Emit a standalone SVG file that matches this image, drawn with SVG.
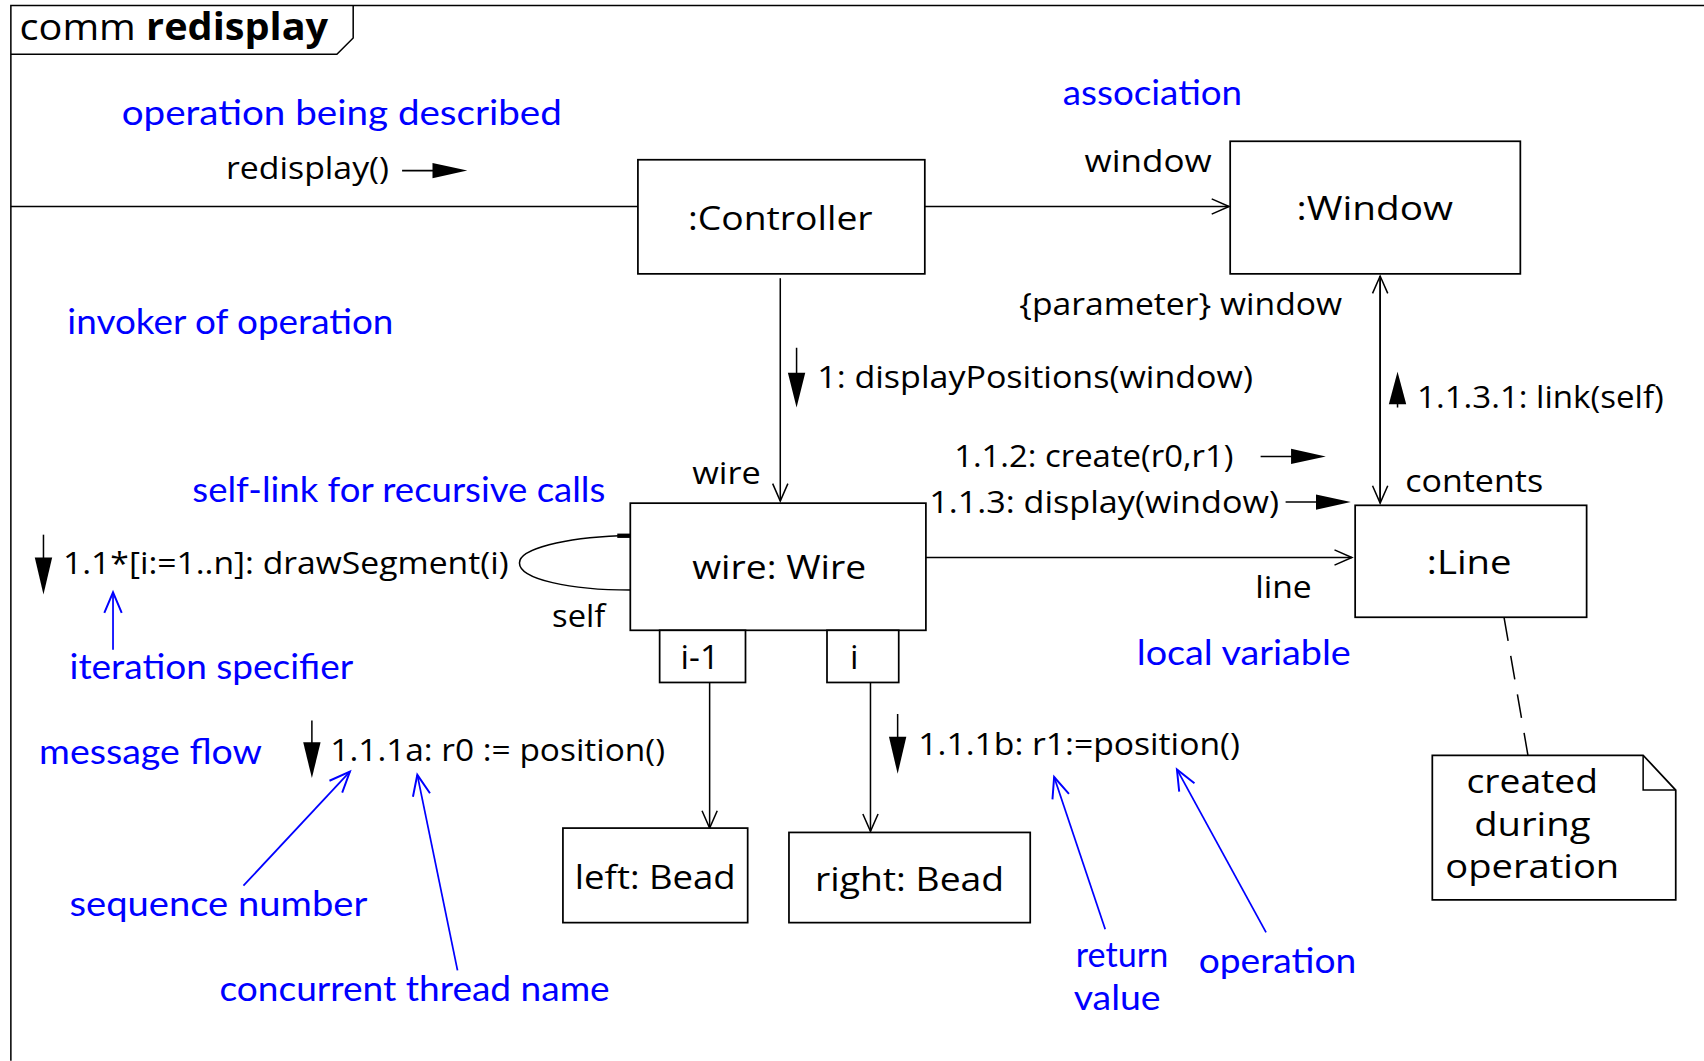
<svg xmlns="http://www.w3.org/2000/svg" width="1704" height="1061" viewBox="0 0 1704 1061">
<style>
.box{fill:#fff;stroke:#000;stroke-width:1.6}
.ln{fill:none;stroke:#000;stroke-width:1.4}
.bl{fill:none;stroke:#0000ff;stroke-width:1.6}
.t{font-family:"Open Sans","Liberation Sans",sans-serif;fill:#000}
.n{font-family:"Open Sans","Liberation Sans",sans-serif;fill:#000;font-size:31px;text-anchor:middle}
.b{font-family:"Lato","Noto Sans",sans-serif;fill:#0000ff;font-size:32px}
</style>
<defs>
<marker id="open" markerWidth="20" markerHeight="20" refX="18" refY="8" orient="auto" markerUnits="userSpaceOnUse">
<path d="M2,1 L18,8 L2,15" fill="none" stroke="#000" stroke-width="1.4"/>
</marker>
<marker id="openb" markerWidth="24" markerHeight="24" refX="21" refY="9" orient="auto" markerUnits="userSpaceOnUse">
<path d="M2,1 L21,9 L2,17" fill="none" stroke="#0000ff" stroke-width="1.8"/>
</marker>
</defs>
<rect width="1704" height="1061" fill="#fff"/>
<g transform="scale(1.08673)">
<g id="frame">
<path class="ln" d="M10,976 L10,5 L1568,5" stroke-width="1.6"/>
<path class="ln" d="M10,50 L310,50 L325,35 L325,5" stroke-width="1.6"/>
<text class="t" x="18" y="37" font-size="34" textLength="284" lengthAdjust="spacingAndGlyphs">comm <tspan font-weight="bold">redisplay</tspan></text>
</g>

<g id="connectors">
<line class="ln" x1="10" y1="190" x2="587" y2="190"/>
<line class="ln" x1="851" y1="190" x2="1131" y2="190" marker-end="url(#open)"/>
<line class="ln" x1="1270" y1="462" x2="1270" y2="254" marker-end="url(#open)"/>
<line class="ln" x1="1270" y1="254" x2="1270" y2="463" marker-end="url(#open)"/>
<line class="ln" x1="718" y1="256" x2="718" y2="461" marker-end="url(#open)"/>
<line class="ln" x1="852" y1="513" x2="1244" y2="513" marker-end="url(#open)"/>
<path class="ln" d="M580,493 L570,493 C520,495 478,505 478,518 C478,533 525,543 580,543"/>
<line x1="568" y1="493" x2="580" y2="493" stroke="#000" stroke-width="4"/>
<line class="ln" x1="653" y1="628" x2="653" y2="762" marker-end="url(#open)"/>
<line class="ln" x1="801" y1="628" x2="801" y2="765" marker-end="url(#open)"/>
<line class="ln" x1="1384" y1="568" x2="1406" y2="695" stroke-dasharray="22,14"/>
</g>

<g id="messages">
<line class="ln" x1="370" y1="157" x2="402" y2="157"/>
<polygon points="398,150 430,157 398,164" fill="#000"/>
<line class="ln" x1="733" y1="320" x2="733" y2="345"/>
<polygon points="725,343 733,375 741,343" fill="#000"/>
<text class="t" x="752" y="357" font-size="28" textLength="401" lengthAdjust="spacingAndGlyphs">1: displayPositions(window)</text>
<line class="ln" x1="1286" y1="375" x2="1286" y2="368"/>
<polygon points="1278,372 1286,342 1294,372" fill="#000"/>
<text class="t" x="1304" y="375" font-size="28" textLength="227" lengthAdjust="spacingAndGlyphs">1.1.3.1: link(self)</text>
<line class="ln" x1="1160" y1="420" x2="1192" y2="420"/>
<polygon points="1188,413 1220,420 1188,427" fill="#000"/>
<text class="t" x="878" y="430" font-size="28" textLength="257" lengthAdjust="spacingAndGlyphs">1.1.2: create(r0,r1)</text>
<line class="ln" x1="1183" y1="462" x2="1215" y2="462"/>
<polygon points="1211,455 1243,462 1211,469" fill="#000"/>
<text class="t" x="855" y="472" font-size="28" textLength="322" lengthAdjust="spacingAndGlyphs">1.1.3: display(window)</text>
<line class="ln" x1="40" y1="492" x2="40" y2="515"/>
<polygon points="32,513 40,547 48,513" fill="#000"/>
<text class="t" x="58" y="528" font-size="28" textLength="410" lengthAdjust="spacingAndGlyphs">1.1*[i:=1..n]: drawSegment(i)</text>
<line class="ln" x1="287" y1="663" x2="287" y2="685"/>
<polygon points="279,683 287,716 295,683" fill="#000"/>
<text class="t" x="304" y="700" font-size="28" textLength="308" lengthAdjust="spacingAndGlyphs">1.1.1a: r0 := position()</text>
<line class="ln" x1="826" y1="657" x2="826" y2="680"/>
<polygon points="818,678 826,712 834,678" fill="#000"/>
<text class="t" x="845" y="695" font-size="28" textLength="296" lengthAdjust="spacingAndGlyphs">1.1.1b: r1:=position()</text>
<text class="t" x="208" y="165" font-size="28" textLength="150" lengthAdjust="spacingAndGlyphs">redisplay()</text>
</g>

<g id="roles">
<text class="t" x="998" y="158" font-size="28" textLength="117" lengthAdjust="spacingAndGlyphs">window</text>
<text class="t" x="938" y="290" font-size="28" textLength="297" lengthAdjust="spacingAndGlyphs">{parameter} window</text>
<text class="t" x="1293" y="453" font-size="28" textLength="127" lengthAdjust="spacingAndGlyphs">contents</text>
<text class="t" x="637" y="445" font-size="28" textLength="63" lengthAdjust="spacingAndGlyphs">wire</text>
<text class="t" x="1155" y="550" font-size="28" textLength="52" lengthAdjust="spacingAndGlyphs">line</text>
<text class="t" x="508" y="577" font-size="28" textLength="49" lengthAdjust="spacingAndGlyphs">self</text>
</g>

<g id="controller">
<rect class="box" x="587" y="147" width="264" height="105"/>
<text class="n" x="718" y="212" textLength="170" lengthAdjust="spacingAndGlyphs">:Controller</text>
</g>
<g id="window">
<rect class="box" x="1132" y="130" width="267" height="122"/>
<text class="n" x="1265" y="202" textLength="144" lengthAdjust="spacingAndGlyphs">:Window</text>
</g>
<g id="wire">
<rect class="box" x="580" y="463" width="272" height="117"/>
<text class="n" x="717" y="533" textLength="160" lengthAdjust="spacingAndGlyphs">wire: Wire</text>
</g>
<g id="qual-i-1">
<rect class="box" x="607" y="580" width="79" height="48"/>
<text class="n" x="644" y="616" font-size="28">i-1</text>
</g>
<g id="qual-i">
<rect class="box" x="761" y="580" width="66" height="48"/>
<text class="n" x="786" y="616" font-size="28">i</text>
</g>
<g id="line">
<rect class="box" x="1247" y="465" width="213" height="103"/>
<text class="n" x="1352" y="528" textLength="78" lengthAdjust="spacingAndGlyphs">:Line</text>
</g>
<g id="left-bead">
<rect class="box" x="518" y="762" width="170" height="87"/>
<text class="n" x="603" y="818" textLength="148" lengthAdjust="spacingAndGlyphs">left: Bead</text>
</g>
<g id="right-bead">
<rect class="box" x="726" y="766" width="222" height="83"/>
<text class="n" x="837" y="820" textLength="174" lengthAdjust="spacingAndGlyphs">right: Bead</text>
</g>
<g id="note">
<path class="box" d="M1318,695 L1512,695 L1542,727 L1542,828 L1318,828 Z"/>
<path class="ln" d="M1512,695 L1512,727 L1542,727"/>
<text class="n" x="1410" y="730" font-size="33" textLength="121" lengthAdjust="spacingAndGlyphs">created</text>
<text class="n" x="1410" y="769" font-size="33" textLength="107" lengthAdjust="spacingAndGlyphs">during</text>
<text class="n" x="1410" y="808" font-size="33" textLength="160" lengthAdjust="spacingAndGlyphs">operation</text>
</g>

<g id="annotations">
<text class="b" x="112" y="115" textLength="405" lengthAdjust="spacingAndGlyphs">operation being described</text>
<text class="b" x="978" y="97" textLength="165" lengthAdjust="spacingAndGlyphs">association</text>
<text class="b" x="62" y="307" textLength="300" lengthAdjust="spacingAndGlyphs">invoker of operation</text>
<text class="b" x="177" y="462" textLength="380" lengthAdjust="spacingAndGlyphs">self-link for recursive calls</text>
<text class="b" x="64" y="625" textLength="261" lengthAdjust="spacingAndGlyphs">iteration specifier</text>
<text class="b" x="1046" y="612" textLength="197" lengthAdjust="spacingAndGlyphs">local variable</text>
<text class="b" x="36" y="703" textLength="205" lengthAdjust="spacingAndGlyphs">message flow</text>
<text class="b" x="64" y="843" textLength="274" lengthAdjust="spacingAndGlyphs">sequence number</text>
<text class="b" x="202" y="921" textLength="359" lengthAdjust="spacingAndGlyphs">concurrent thread name</text>
<text class="b" x="990" y="890" textLength="85" lengthAdjust="spacingAndGlyphs">return</text>
<text class="b" x="988" y="929" textLength="80" lengthAdjust="spacingAndGlyphs">value</text>
<text class="b" x="1103" y="895" textLength="145" lengthAdjust="spacingAndGlyphs">operation</text>
<line class="bl" x1="104" y1="598" x2="104" y2="545" marker-end="url(#openb)"/>
<line class="bl" x1="224" y1="815" x2="322" y2="710" marker-end="url(#openb)"/>
<line class="bl" x1="421" y1="893" x2="384" y2="713" marker-end="url(#openb)"/>
<line class="bl" x1="1017" y1="855" x2="970" y2="715" marker-end="url(#openb)"/>
<line class="bl" x1="1165" y1="858" x2="1083" y2="708" marker-end="url(#openb)"/>
</g>
</g>
</svg>
